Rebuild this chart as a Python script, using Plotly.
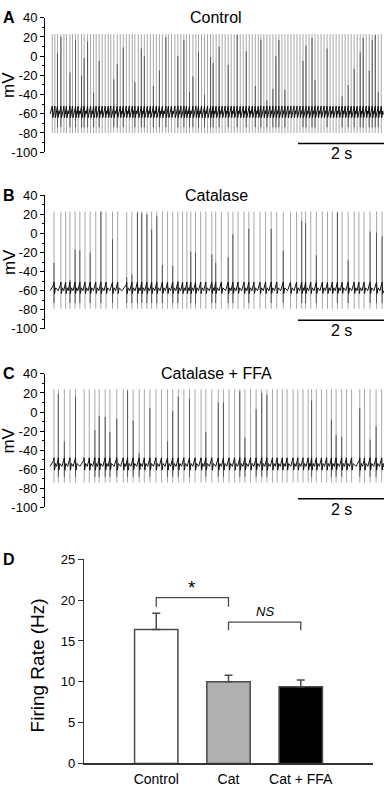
import plotly.graph_objects as go

W, H = 384, 791
FONT = "Liberation Sans, Arial, sans-serif"

# ---------------- data ----------------
# Panel A: Control (spike times, s)
ctrl_spike_t = [0.17, 0.23, 0.29, 0.37, 0.44, 0.50, 0.58, 0.64, 0.71, 0.77, 0.85, 0.91, 0.99,
                1.06, 1.13, 1.19, 1.26, 1.33, 1.40, 1.47, 1.53, 1.60, 1.68, 1.75, 1.82, 1.89,
                1.96, 2.03, 2.09, 2.17, 2.24, 2.31, 2.38, 2.45, 2.52, 2.59, 2.66, 2.73, 2.81,
                2.87, 2.94, 3.02, 3.09, 3.16, 3.23, 3.29, 3.36, 3.44, 3.51, 3.57, 3.64, 3.71,
                3.78, 3.85, 3.91, 3.98, 4.05, 4.12, 4.19, 4.26, 4.33, 4.40, 4.47, 4.54, 4.61,
                4.68, 4.75, 4.82, 4.89, 4.96, 5.02, 5.09, 5.16, 5.23, 5.30, 5.37, 5.44, 5.51,
                5.58, 5.65, 5.72, 5.79, 5.86, 5.93, 6.00, 6.07, 6.14, 6.21, 6.28, 6.35, 6.42,
                6.49, 6.56, 6.63, 6.70, 6.77, 6.84, 6.91, 6.98, 7.05, 7.12, 7.19, 7.26, 7.33,
                7.40, 7.47, 7.54, 7.61, 7.68, 7.75, 7.82]
ctrl_dark_t = [0.29, 0.37, 0.58, 0.71, 0.85, 0.94, 1.01, 1.15, 1.28, 1.63, 1.69, 1.82, 2.08,
               2.21, 2.33, 2.54, 2.64, 2.82, 3.11, 3.23, 3.36, 3.44, 3.56, 3.71, 3.84, 3.91,
               4.04, 4.23, 4.47, 4.70, 4.89, 5.02, 5.15, 5.30, 5.38, 5.46, 5.56, 6.02, 6.09,
               6.22, 6.30, 6.54, 6.91, 7.05, 7.19, 7.30, 7.40, 7.52, 7.60, 7.69, 7.75]
ctrl_dark_top = [3, 20, -17, 17, -20, -2, 15, -38, -5, -24, -8, 9, -27,
                 8, 0, -31, -15, 20, 0, 17, -37, -21, 4, -40, -1, -7,
                 10, -9, 22, 5, -31, 17, -46, -34, 0, 17, -35, -5, 11,
                 19, -25, 8, -42, -30, -13, 4, 19, -15, 17, 22, -37]

# Panel B: Catalase
cat_spike_t = [0.21, 0.37, 0.48, 0.58, 0.70, 0.81, 0.93, 1.05, 1.18, 1.30, 1.42, 1.57, 1.69,
               1.90, 2.02, 2.15, 2.25, 2.37, 2.48, 2.60, 2.73, 2.85, 2.97, 3.09, 3.20, 3.30,
               3.39, 3.50, 3.62, 3.74, 3.88, 3.97, 4.10, 4.26, 4.37, 4.49, 4.63, 4.74, 4.86,
               5.00, 5.13, 5.26, 5.39, 5.54, 5.71, 5.85, 5.97, 6.06, 6.18, 6.31, 6.45, 6.57,
               6.68, 6.80, 6.91, 7.05, 7.19, 7.30, 7.42, 7.56, 7.71, 7.84]
cat_dark_t = [0.21, 0.58, 0.70, 0.81, 1.05, 1.30, 1.57, 1.90, 2.02, 2.15, 2.25, 2.37, 2.48,
              2.60, 2.73, 2.97, 3.09, 3.39, 3.50, 3.88, 3.97, 4.26, 4.37, 4.74, 5.26, 5.54,
              5.97, 6.06, 6.31, 6.80, 7.05, 7.56, 7.71, 7.84]
cat_dark_top = [-31, -49, -17, -18, -20, 23, -6, -46, -43, 22, 21, 20, 4,
                18, -33, -34, -50, -19, -20, -22, -31, -25, -1, 5, 5, -18,
                13, 11, -23, 22, -28, 2, 1, -3]

# Panel C: Catalase + FFA
ffa_spike_t = [0.21, 0.31, 0.45, 0.58, 0.71, 0.91, 1.03, 1.16, 1.26, 1.40, 1.51, 1.67, 1.82,
               1.92, 2.05, 2.19, 2.31, 2.44, 2.58, 2.71, 2.85, 2.97, 3.10, 3.23, 3.36, 3.49,
               3.63, 3.74, 3.88, 4.03, 4.15, 4.28, 4.41, 4.53, 4.65, 4.78, 4.91, 5.04, 5.16,
               5.29, 5.40, 5.52, 5.63, 5.77, 5.88, 6.00, 6.12, 6.20, 6.31, 6.43, 6.55, 6.66,
               6.77, 6.90, 7.01, 7.13, 7.32, 7.43, 7.56, 7.70, 7.83]
ffa_dark_t = [0.31, 0.45, 0.71, 1.16, 1.26, 1.40, 1.51, 1.67, 1.92, 2.05, 2.19, 2.44, 2.85,
              2.97, 3.10, 3.36, 3.74, 4.03, 4.15, 4.53, 4.65, 4.91, 5.04, 5.16, 6.20, 6.66,
              6.77, 6.90, 7.32, 7.56, 7.70]
ffa_dark_top = [19, -31, 16, -19, -4, -5, -21, -7, 22, -9, -43, 4, -31,
                1, 16, 14, -21, 10, 10, 22, -27, 3, 20, 18, 12, -8,
                -24, -26, 4, -29, -15]

trace_titles = ["Control", "Catalase", "Catalase + FFA"]
panel_letters = ["A", "B", "C", "D"]
mv_tick_vals = [40, 20, 0, -20, -40, -60, -80, -100]
mv_tick_text = ["40", "20", "0", "-20", "-40", "-60", "-80", "-100"]

# Panel D: firing rate
bar_labels = ["Control", "Cat", "Cat + FFA"]
bar_means = [16.4, 10.0, 9.4]
bar_sem = [2.0, 0.8, 0.8]
rate_ticks = [0, 5, 10, 15, 20, 25]

# ---------------- figure ----------------
fig = go.Figure()

def py(px):
    return 1 - px / H

panels = [
    dict(spikes=ctrl_spike_t, dark_t=ctrl_dark_t, dark_top=ctrl_dark_top,
         peak=23, trough=-80, rest=-60, ahp=-64, pre=-55, top=11, bot=148),
    dict(spikes=cat_spike_t, dark_t=cat_dark_t, dark_top=cat_dark_top,
         peak=23, trough=-79, rest=-60, ahp=-63, pre=-54, top=192, bot=328),
    dict(spikes=ffa_spike_t, dark_t=ffa_dark_t, dark_top=ffa_dark_top,
         peak=24, trough=-74, rest=-57, ahp=-61, pre=-51, top=374, bot=510),
]

X_LEFT = 45
T_MAX = (W - X_LEFT) / 43.0
T_START = 0.12

annotations = []
shapes = []

for i, p in enumerate(panels):
    xa = "x" if i == 0 else f"x{i+1}"
    ya = "y" if i == 0 else f"y{i+1}"
    spikes = p["spikes"]
    # gray spike strokes
    sx, sy = [], []
    for t in spikes:
        sx += [t, t, None]
        sy += [p["trough"], p["peak"], None]
    fig.add_trace(go.Scatter(x=sx, y=sy, mode="lines", xaxis=xa, yaxis=ya,
                             line=dict(color="#a8a8a8", width=1), hoverinfo="skip",
                             showlegend=False))
    # darker partial strokes, snapped to nearest spike
    dx, dy = [], []
    for t, top in zip(p["dark_t"], p["dark_top"]):
        ts = min(spikes, key=lambda s: abs(s - t))
        dx += [ts, ts, None]
        dy += [p["trough"] + 6, top, None]
    fig.add_trace(go.Scatter(x=dx, y=dy, mode="lines", xaxis=xa, yaxis=ya,
                             line=dict(color="#555555", width=1), hoverinfo="skip",
                             showlegend=False))
    # baseline membrane potential between spikes
    bx, by = [T_START], [p["rest"]]
    for j, t in enumerate(spikes):
        bx += [t - 0.012, t, t + 0.012]
        by += [p["pre"], p["pre"] + 3, p["ahp"]]
        nxt = spikes[j + 1] if j + 1 < len(spikes) else T_MAX
        gap = nxt - t
        if gap > 0.05:
            bx += [t + 0.035, t + 0.1 if gap > 0.16 else t + gap * 0.6]
            by += [p["rest"] + 3, p["rest"]]
    bx.append(T_MAX)
    by.append(p["rest"])
    fig.add_trace(go.Scatter(x=bx, y=by, mode="lines", xaxis=xa, yaxis=ya,
                             line=dict(color="#111111", width=1), hoverinfo="skip",
                             showlegend=False))

    dom_y = [py(p["bot"]), py(p["top"])]
    fig.update_layout(**{
        ("xaxis" if i == 0 else f"xaxis{i+1}"): dict(
            domain=[X_LEFT / W, 1], range=[0, T_MAX], visible=False, anchor=ya,
            fixedrange=True),
        ("yaxis" if i == 0 else f"yaxis{i+1}"): dict(
            domain=dom_y, range=[-100, 40], anchor=xa, showline=True, linecolor="black",
            linewidth=1, ticks="outside", ticklen=4, tickcolor="black",
            tickmode="array", tickvals=mv_tick_vals, ticktext=mv_tick_text,
            tickfont=dict(size=13, color="black", family=FONT), showgrid=False,
            zeroline=False, fixedrange=True,
            minor=dict(tickmode="array", tickvals=[30, 10, -10, -30, -50, -70, -90],
                       ticks="outside", ticklen=2, tickcolor="black"),
        ),
    })
    # scale bar 2 s
    shapes.append(dict(type="line", xref=xa, yref=ya, x0=T_MAX - 2, x1=T_MAX,
                       y0=-91, y1=-91, line=dict(color="black", width=1.5)))
    annotations.append(dict(text="2 s", xref="paper", yref="paper",
                            x=341 / W, y=py(p["top"] + 138), showarrow=False,
                            xanchor="center", yanchor="middle",
                            font=dict(size=16, color="black", family=FONT)))
    # title
    annotations.append(dict(text=trace_titles[i], xref="paper", yref="paper",
                            x=216 / W, y=py(p["top"]), showarrow=False,
                            xanchor="center", yanchor="middle",
                            font=dict(size=16, color="black", family=FONT)))
    # mV label
    annotations.append(dict(text="mV", xref="paper", yref=ya + " domain",
                            x=9 / W, y=0.5, showarrow=False, textangle=-90,
                            xanchor="center", yanchor="middle",
                            font=dict(size=17, color="black", family=FONT)))
    # panel letter
    annotations.append(dict(text="<b>%s</b>" % panel_letters[i], xref="paper",
                            yref="paper", x=1 / W, y=py(p["top"]), showarrow=False,
                            xanchor="left", yanchor="middle",
                            font=dict(size=16, color="black", family=FONT)))

# ---------------- Panel D ----------------
bar_x = list(range(len(bar_labels)))
fig.add_trace(go.Bar(
    x=bar_x, y=bar_means, xaxis="x4", yaxis="y4", width=0.6,
    marker=dict(color=["#ffffff", "#b0b0b0", "#000000"],
                line=dict(color="#4a4a4a", width=1.5)),
    error_y=dict(type="data", array=bar_sem, arrayminus=[0, 0, 0], symmetric=False,
                 color="#4a4a4a", thickness=1.5, width=4),
    showlegend=False, hoverinfo="skip"))

fig.update_layout(
    xaxis4=dict(domain=[84 / W, 373 / W], range=[-1, 3], anchor="y4",
                showline=True, linecolor="#333333", linewidth=1.2, ticks="",
                tickmode="array", tickvals=bar_x, ticktext=bar_labels,
                ticklabelstandoff=3,
                tickfont=dict(size=14, color="black", family=FONT), showgrid=False,
                zeroline=False, fixedrange=True),
    yaxis4=dict(domain=[py(771), py(563)], range=[0, 25], anchor="x4",
                showline=True, linecolor="#333333", linewidth=1.2, ticks="outside",
                ticklen=5, tickcolor="#333333", tickmode="array", tickvals=rate_ticks,
                tickfont=dict(size=13, color="black", family=FONT), showgrid=False,
                zeroline=False, fixedrange=True),
)

annotations.append(dict(text="Firing Rate (Hz)", xref="paper", yref="y4 domain",
                        x=37 / W, y=0.48, showarrow=False, textangle=-90,
                        xanchor="center", yanchor="middle",
                        font=dict(size=19, color="black", family=FONT)))
annotations.append(dict(text="<b>D</b>", xref="paper", yref="paper", x=1 / W,
                        y=py(563), showarrow=False, xanchor="left", yanchor="middle",
                        font=dict(size=16, color="black", family=FONT)))

# significance brackets
shapes.append(dict(type="path", xref="x4", yref="y4",
                   path="M 0,19.2 L 0,20.3 L 1,20.3 L 1,19.2",
                   line=dict(color="#4a4a4a", width=1.3)))
shapes.append(dict(type="path", xref="x4", yref="y4",
                   path="M 1,16.3 L 1,17.3 L 2,17.3 L 2,16.3",
                   line=dict(color="#4a4a4a", width=1.3)))
annotations.append(dict(text="*", xref="x4", yref="y4", x=0.5, y=21.6,
                        showarrow=False, xanchor="center", yanchor="middle",
                        font=dict(size=19, color="black", family=FONT)))
annotations.append(dict(text="<i>NS</i>", xref="x4", yref="y4", x=1.5, y=18.6,
                        showarrow=False, xanchor="center", yanchor="middle",
                        font=dict(size=13, color="black", family=FONT)))

fig.update_layout(
    width=W, height=H, margin=dict(l=0, r=0, t=0, b=0),
    paper_bgcolor="white", plot_bgcolor="white",
    font=dict(family=FONT, color="black"),
    annotations=annotations, shapes=shapes, showlegend=False,
    bargap=0,
)

fig.write_html("out.html", config={"displayModeBar": False, "staticPlot": True},
               post_script="document.body.style.margin='0';document.body.style.padding='0';")
